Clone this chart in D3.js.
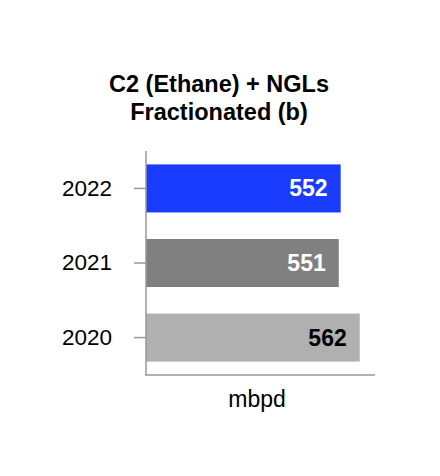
<!DOCTYPE html>
<html><head><meta charset="utf-8">
<script src="https://cdn.jsdelivr.net/npm/d3@7"></script>
<style>body{margin:0;background:#fff}svg{display:block}</style>
</head><body>
<script>
const years = ["2022", "2021", "2020"];
const values = [552, 551, 562];
const barColors = ["#1a3cff", "#808080", "#b0b0b0"];
const labelColors = ["#ffffff", "#ffffff", "#000000"];
const titleLines = ["C2 (Ethane) + NGLs", "Fractionated (b)"];
const unitLabel = "mbpd";

const W = 440, H = 476;
const svg = d3.select("body").append("svg").attr("width", W).attr("height", H);
const font = "'Liberation Sans', Arial, sans-serif";

const x = d3.scaleLinear().domain([450, 570]).range([146, 375]);
const y = d3.scaleBand().domain(years).range([151, 375]).paddingInner(0.356).paddingOuter(0.18);

svg.append("g").selectAll("text").data(titleLines).join("text")
  .attr("x", 219).attr("y", (d, i) => 92 + i * 28)
  .attr("text-anchor", "middle").attr("font-family", font)
  .attr("font-weight", "bold").attr("font-size", 23.5).attr("fill", "#000").text(d => d);

svg.append("g").selectAll("rect").data(years).join("rect")
  .attr("x", x(450)).attr("y", d => y(d))
  .attr("width", (d, i) => x(values[i]) - x(450))
  .attr("height", y.bandwidth())
  .attr("fill", (d, i) => barColors[i]);

svg.append("g").selectAll("text").data(years).join("text")
  .attr("x", (d, i) => x(values[i]) - 13)
  .attr("y", d => y(d) + y.bandwidth() / 2 + 8)
  .attr("text-anchor", "end").attr("font-family", font)
  .attr("font-weight", "bold").attr("font-size", 23)
  .attr("fill", (d, i) => labelColors[i])
  .text((d, i) => values[i]);

const yAxis = svg.append("g").attr("transform", "translate(146,0)")
  .call(d3.axisLeft(y).tickSize(12).tickPadding(22));
yAxis.select(".domain").attr("d", "M0,151V375").attr("stroke", "#999").attr("stroke-width", 1.5);
yAxis.selectAll(".tick line").attr("stroke", "#999").attr("stroke-width", 1.5);
yAxis.selectAll(".tick text").attr("font-family", font).attr("font-size", 22.5).attr("fill", "#000");

svg.append("line").attr("x1", 145).attr("x2", 375).attr("y1", 375).attr("y2", 375)
  .attr("stroke", "#999").attr("stroke-width", 1.5);

svg.append("text").attr("x", 257).attr("y", 407).attr("text-anchor", "middle")
  .attr("font-family", font).attr("font-size", 23).attr("fill", "#000").text(unitLabel);
</script>
</body></html>
